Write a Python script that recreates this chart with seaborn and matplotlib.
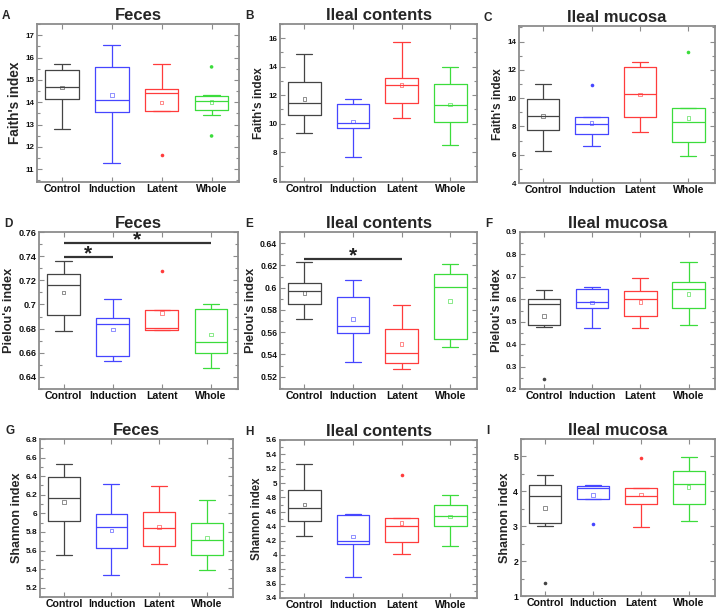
import numpy as np
import pandas as pd
import seaborn as sns
import matplotlib.pyplot as plt
from matplotlib.ticker import MultipleLocator, AutoMinorLocator, FuncFormatter

groups = ["Control", "Induction", "Latent", "Whole"]
palette = ["#444444", "#4646ff", "#ff3c3c", "#3cdc3c"]

# five-number summaries per group: [whisker low, Q1, median, Q3, whisker high]
faith_feces = [[12.78, 14.13, 14.66, 15.46, 15.73],
               [11.30, 13.57, 14.12, 15.58, 16.55],
               [13.60, 13.60, 14.43, 14.57, 15.69],
               [13.45, 13.64, 14.04, 14.30, 14.33]]
faith_feces_mean = [14.65, 14.31, 13.99, 14.00]
faith_feces_out = [[], [], [11.63], [15.58, 12.49]]

faith_contents = [[9.34, 10.63, 11.47, 12.90, 14.90],
                  [7.64, 9.71, 10.04, 11.37, 11.75],
                  [10.42, 11.47, 12.73, 13.22, 15.72],
                  [8.52, 10.09, 11.28, 12.78, 13.99]]
faith_contents_mean = [11.75, 10.16, 12.73, 11.35]
faith_contents_out = [[], [], [], []]

faith_mucosa = [[6.25, 7.73, 8.72, 9.92, 10.97],
                [6.60, 7.45, 8.15, 8.65, 8.65],
                [7.59, 8.69, 10.27, 12.17, 12.54],
                [5.90, 6.89, 8.30, 9.31, 9.31]]
faith_mucosa_mean = [8.72, 8.25, 10.27, 8.58]
faith_mucosa_out = [[], [10.92], [], [13.25]]

pielou_feces = [[0.6784, 0.6910, 0.7164, 0.7252, 0.7363],
                [0.6535, 0.6577, 0.6836, 0.6888, 0.7049],
                [0.6792, 0.6792, 0.6809, 0.6958, 0.6958],
                [0.6477, 0.6600, 0.6693, 0.6963, 0.7004]]
pielou_feces_mean = [0.7098, 0.6792, 0.6927, 0.6750]
pielou_feces_out = [[], [], [0.7277], []]
pielou_feces_sig = [(0, 3, 0.7509), (0, 1, 0.7393)]

pielou_contents = [[0.5722, 0.5851, 0.5971, 0.6040, 0.6229],
                   [0.5329, 0.5596, 0.5659, 0.5920, 0.6073],
                   [0.5266, 0.5320, 0.5410, 0.5629, 0.5842],
                   [0.5467, 0.5536, 0.6004, 0.6124, 0.6211]]
pielou_contents_mean = [0.5953, 0.5716, 0.5494, 0.5881]
pielou_contents_out = [[], [], [], []]
pielou_contents_sig = [(0, 2, 0.6259)]

pielou_mucosa = [[0.475, 0.485, 0.577, 0.600, 0.642],
                 [0.473, 0.563, 0.590, 0.645, 0.657],
                 [0.470, 0.524, 0.600, 0.636, 0.697],
                 [0.484, 0.560, 0.645, 0.676, 0.766]]
pielou_mucosa_mean = [0.526, 0.586, 0.587, 0.624]
pielou_mucosa_out = [[0.243], [], [], []]

shannon_feces = [[5.555, 5.916, 6.165, 6.392, 6.533],
                 [5.334, 5.623, 5.850, 5.995, 6.320],
                 [5.453, 5.648, 5.843, 6.017, 6.298],
                 [5.388, 5.551, 5.713, 5.901, 6.147]]
shannon_feces_mean = [6.125, 5.814, 5.854, 5.735]
shannon_feces_out = [[], [], [], []]

shannon_contents = [[4.270, 4.479, 4.656, 4.898, 5.270],
                    [3.693, 4.153, 4.195, 4.549, 4.563],
                    [4.019, 4.177, 4.409, 4.516, 4.516],
                    [4.130, 4.409, 4.535, 4.698, 4.828]]
shannon_contents_mean = [4.702, 4.256, 4.447, 4.535]
shannon_contents_out = [[], [], [5.107], []]

shannon_mucosa = [[3.020, 3.106, 3.856, 4.190, 4.470],
                  [3.770, 3.770, 4.087, 4.154, 4.180],
                  [2.990, 3.625, 3.875, 4.106, 4.106],
                  [3.154, 3.625, 4.220, 4.587, 4.990]]
shannon_mucosa_mean = [3.520, 3.894, 3.910, 4.125]
shannon_mucosa_out = [[1.385], [3.07], [4.95], []]

sns.set_theme(style="ticks")
plt.rcParams["font.family"] = ["Liberation Sans", "DejaVu Sans"]
plt.rcParams["font.weight"] = "bold"
plt.rcParams["axes.titleweight"] = "bold"
plt.rcParams["axes.labelweight"] = "bold"

W, H = 716, 609
fig = plt.figure(figsize=(W / 100, H / 100), dpi=100)

# letter, title, ylabel, box, mean, outliers, sig, ylim, step, ylabel size, ytick size, rect(px l,t,r,b)
panels = [
    ("A", "Feces", "Faith's index", faith_feces, faith_feces_mean, faith_feces_out, [],
     (10.43, 17.5), 1, 9.8, 5.8, (37, 24, 239, 182)),
    ("B", "Ileal contents", "Faith's index", faith_contents, faith_contents_mean, faith_contents_out, [],
     (5.9, 17.0), 2, 8.5, 5.8, (280, 24, 477, 182)),
    ("C", "Ileal mucosa", "Faith's index", faith_mucosa, faith_mucosa_mean, faith_mucosa_out, [],
     (4.0, 15.1), 2, 8.5, 5.8, (519, 26, 715, 183)),
    ("D", "Feces", "Pielou's index", pielou_feces, pielou_feces_mean, pielou_feces_out, pielou_feces_sig,
     (0.63, 0.76), 0.02, 9.2, 6.6, (39, 232, 238, 389)),
    ("E", "Ileal contents", "Pielou's index", pielou_contents, pielou_contents_mean, pielou_contents_out,
     pielou_contents_sig, (0.509, 0.65), 0.02, 9.2, 6.2, (280, 232, 477, 389)),
    ("F", "Ileal mucosa", "Pielou's index", pielou_mucosa, pielou_mucosa_mean, pielou_mucosa_out, [],
     (0.2, 0.9), 0.1, 9.0, 5.8, (520, 232, 715, 389)),
    ("G", "Feces", "Shannon index", shannon_feces, shannon_feces_mean, shannon_feces_out, [],
     (5.1, 6.8), 0.2, 9.1, 6.0, (40, 439, 233, 597)),
    ("H", "Ileal contents", "Shannon index", shannon_contents, shannon_contents_mean, shannon_contents_out, [],
     (3.4, 5.6), 0.2, 8.3, 5.8, (280, 440, 477, 598)),
    ("I", "Ileal mucosa", "Shannon index", shannon_mucosa, shannon_mucosa_mean, shannon_mucosa_out, [],
     (1.0, 5.5), 1, 9.1, 6.3, (521, 439, 715, 596)),
]

fmt = FuncFormatter(lambda v, _: f"{round(v, 6):g}")

for letter, title, ylabel, box, means, outs, sig, ylim, step, ylsize, ytsize, rect in panels:
    l, t, r, b = rect
    ax = fig.add_axes([l / W, 1 - b / H, (r - l) / W, (b - t) / H])

    df = pd.DataFrame({"group": np.repeat(groups, 5), "value": np.concatenate(box)})
    sns.boxplot(data=df, x="group", y="value", hue="group", order=groups, hue_order=groups,
                palette=palette, fill=False, whis=(0, 100), showfliers=False, width=0.67,
                linewidth=0.9, legend=False, ax=ax)

    # mean markers
    n0 = len(ax.collections)
    sns.stripplot(x=groups, y=means, hue=groups, order=groups, hue_order=groups, palette=palette,
                  marker="s", size=2.6, jitter=False, legend=False, ax=ax)
    for c in ax.collections[n0:]:
        c.set_edgecolor(c.get_facecolor())
        c.set_facecolor("none")
        c.set_linewidth(0.7)
        c.set_alpha(0.6)

    # outliers
    og = [g for g, vals in zip(groups, outs) for _ in vals]
    ov = [v for vals in outs for v in vals]
    if ov:
        sns.stripplot(x=og, y=ov, hue=og, order=groups, hue_order=groups, palette=palette,
                      size=2.6, jitter=False, legend=False, ax=ax)

    for x0, x1, h in sig:
        ax.plot([x0, x1], [h, h], color="#333333", lw=1.6, solid_capstyle="butt")
        ax.annotate("*", ((x0 + x1) / 2, h), xytext=(0, -2), textcoords="offset points",
                    ha="center", va="baseline", fontsize=15, fontweight="bold", color="#222222")

    ax.set_xlim(-0.5, 3.55)
    ax.set_ylim(*ylim)
    ax.yaxis.set_major_locator(MultipleLocator(step))
    ax.yaxis.set_minor_locator(AutoMinorLocator(2))
    ax.yaxis.set_major_formatter(fmt)

    for s in ax.spines.values():
        s.set_color("#8c8c8c")
        s.set_linewidth(1.3)
    ax.tick_params(which="both", direction="in", top=True, right=True, color="#8c8c8c", width=0.8)
    ax.tick_params(which="major", length=3.5)
    ax.tick_params(which="minor", length=2)
    ax.tick_params(axis="x", which="minor", bottom=False, top=False)
    ax.tick_params(axis="x", labelsize=7.6, pad=1.5, labelcolor="#111111")
    ax.tick_params(axis="y", labelsize=ytsize, pad=2, labelcolor="#111111")

    ax.set_xlabel("")
    ax.set_ylabel(ylabel, fontsize=ylsize, labelpad=2)
    ax.set_title(title, fontsize=12, pad=3)
    fig.text((l - 35) / W, 1 - (t - 14) / H, letter,
             fontsize=8.5, fontweight="bold", ha="left", va="top")

fig.savefig("out.png", dpi=100)
